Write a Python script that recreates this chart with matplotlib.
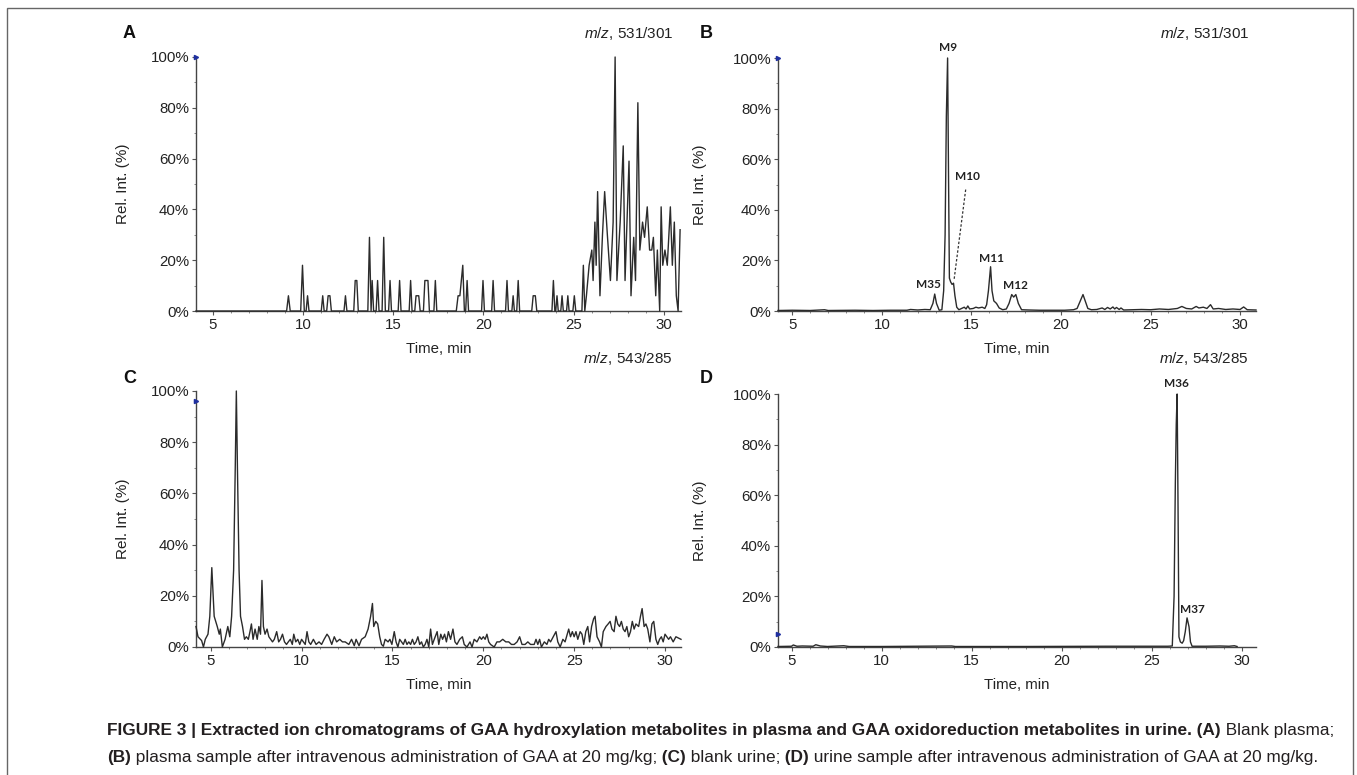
import matplotlib
matplotlib.use("Agg")
import matplotlib.pyplot as plt
from matplotlib.patches import Rectangle
from matplotlib.ticker import MultipleLocator, FixedLocator

plt.rcParams["font.family"] = ["Liberation Sans", "DejaVu Sans"]
plt.rcParams["mathtext.fontset"] = "custom"
plt.rcParams["mathtext.it"] = "Liberation Sans:italic"
plt.rcParams["mathtext.rm"] = "Liberation Sans"

W, H = 1357, 775

# ---- data ----
time_a = [4.08, 9.1, 9.2, 9.3, 9.88, 9.98, 10.08, 10.18, 10.26, 10.34, 11.02, 11.1, 11.18,
          11.32, 11.4, 11.5, 11.58, 12.28, 12.36, 12.44, 12.82, 12.9, 12.99, 13.07, 13.6,
          13.69, 13.78, 13.84, 13.92, 14.06, 14.14, 14.22, 14.39, 14.48, 14.57, 14.75, 14.83,
          14.91, 15.28, 15.36, 15.44, 15.89, 15.97, 16.05, 16.2, 16.27, 16.34, 16.42, 16.5,
          16.68, 16.76, 16.93, 17.01, 17.26, 17.34, 17.42, 18.5, 18.6, 18.7, 18.86, 18.95,
          19.02, 19.1, 19.18, 19.9, 19.98, 20.06, 20.46, 20.54, 20.62, 21.23, 21.31, 21.39,
          21.58, 21.65, 21.72, 21.85, 21.93, 22.01, 22.68, 22.76, 22.88, 22.96, 23.8, 23.88,
          23.96, 24.01, 24.08, 24.15, 24.29, 24.36, 24.43, 24.61, 24.68, 24.75, 24.96, 25.04,
          25.12, 25.46, 25.54, 25.62, 25.71, 25.86, 26.01, 26.08, 26.18, 26.25, 26.33, 26.46,
          26.6, 26.72, 26.87, 27.04, 27.19, 27.3, 27.4, 27.58, 27.75, 27.85, 28.07, 28.18,
          28.33, 28.43, 28.56, 28.67, 28.82, 28.93, 29.08, 29.21, 29.33, 29.42, 29.55, 29.64,
          29.77, 29.85, 29.94, 30.06, 30.19, 30.36, 30.47, 30.58, 30.69, 30.79, 30.9]
int_a = [0, 0, 6, 0, 0, 18, 0, 0, 6, 0, 0, 6, 0,
         0, 6, 6, 0, 0, 6, 0, 0, 12, 12, 0, 0,
         29, 0, 12, 0, 0, 12, 0, 0, 29, 0, 0, 12,
         0, 0, 12, 0, 0, 12, 0, 0, 6, 6, 6, 0,
         0, 12, 12, 0, 0, 12, 0, 0, 6, 6, 18, 0,
         0, 12, 0, 0, 12, 0, 0, 12, 0, 0, 12, 0,
         0, 6, 0, 0, 12, 0, 0, 6, 6, 0, 0, 12,
         0, 0, 6, 0, 0, 6, 0, 0, 6, 0, 0, 6,
         0, 0, 18, 0, 6, 18, 24, 12, 35, 18, 47, 6,
         30, 47, 30, 12, 35, 100, 12, 35, 65, 12, 59, 6,
         29, 12, 82, 24, 35, 29, 41, 24, 24, 29, 6, 24,
         0, 41, 18, 24, 18, 41, 18, 35, 6, 0, 32]

time_b = [4.2, 5.0, 6.0, 6.8, 7.0, 8.5, 9.5, 10.5, 11.4, 11.6, 12.0, 12.4, 12.7, 12.85,
          12.95, 13.05, 13.2, 13.35, 13.45, 13.53, 13.6, 13.67, 13.72, 13.77, 13.84, 13.92,
          14.0, 14.08, 14.18, 14.3, 14.45, 14.6, 14.7, 14.8, 14.9, 15.1, 15.25, 15.4, 15.6,
          15.75, 15.85, 15.95, 16.07, 16.15, 16.25, 16.4, 16.55, 16.75, 16.95, 17.1, 17.25,
          17.36, 17.48, 17.62, 17.8, 18.2, 18.8, 19.5, 20.2, 20.7, 20.9, 21.23, 21.5, 21.7,
          22.0, 22.3, 22.45, 22.6, 22.75, 22.9, 23.0, 23.1, 23.25, 23.35, 23.5, 24.0, 24.5,
          25.0, 25.5, 26.0, 26.5, 26.75, 27.0, 27.3, 27.55, 27.7, 27.95, 28.15, 28.35, 28.5,
          28.8, 29.2, 29.6, 30.0, 30.2, 30.4, 30.89]
int_b = [0.2, 0.3, 0.2, 0.5, 0.2, 0.3, 0.2, 0.3, 0.3, 0.6, 0.4, 0.6, 0.5, 3,
         6.7, 3, 0.3, 0.5, 8, 30, 77, 100, 55, 13, 11.5, 10.5,
         11, 6, 1.5, 0.5, 1, 1.5, 0.8, 2, 0.8, 1, 1.5, 1.2, 1.5,
         1, 2.5, 8, 17.5, 8, 4, 3, 1.2, 0.5, 0.8, 3, 6.5,
         5.5, 6.5, 3, 0.5, 0.4, 0.3, 0.3, 0.3, 0.5, 1, 6.5, 1, 0.5,
         0.6, 1.2, 0.6, 1.4, 0.8, 1.6, 0.8, 1.4, 0.6, 1.2, 0.4, 0.5, 0.6,
         0.5, 0.8, 0.6, 1, 1.8, 1, 0.8, 1.8, 1.2, 1.5, 1, 2.5, 0.8,
         1, 0.6, 0.8, 0.6, 1.6, 0.5, 0.4]

time_c = [4.19, 4.3, 4.5, 4.6, 4.7, 4.85, 4.95, 5.06, 5.19, 5.36, 5.47, 5.53, 5.64, 5.79,
          5.94, 6.05, 6.15, 6.26, 6.35, 6.41, 6.47, 6.56, 6.64, 6.75, 6.86, 6.96, 7.07,
          7.16, 7.24, 7.33, 7.44, 7.56, 7.65, 7.74, 7.82, 7.9, 7.99, 8.1, 8.2, 8.3, 8.4,
          8.5, 8.63, 8.74, 8.84, 8.95, 9.06, 9.17, 9.27, 9.38, 9.49, 9.57, 9.68, 9.79, 9.9,
          10.0, 10.1, 10.2, 10.3, 10.4, 10.5, 10.65, 10.8, 10.96, 11.1, 11.24, 11.4, 11.5,
          11.66, 11.8, 11.93, 12.1, 12.25, 12.4, 12.6, 12.75, 12.9, 13.0, 13.16, 13.3, 13.5,
          13.66, 13.8, 13.9, 13.97, 14.08, 14.19, 14.3, 14.4, 14.5, 14.6, 14.76, 14.86,
          14.97, 15.1, 15.2, 15.3, 15.4, 15.5, 15.6, 15.7, 15.8, 15.9, 16.0, 16.1, 16.2,
          16.3, 16.4, 16.5, 16.6, 16.7, 16.8, 16.9, 17.0, 17.1, 17.2, 17.3, 17.46, 17.55,
          17.66, 17.76, 17.87, 17.97, 18.08, 18.2, 18.33, 18.44, 18.55, 18.7, 18.85, 18.95,
          19.1, 19.27, 19.38, 19.5, 19.65, 19.8, 19.9, 20.0, 20.1, 20.2, 20.3, 20.4, 20.6,
          20.75, 20.9, 21.07, 21.24, 21.4, 21.55, 21.7, 21.86, 22.0, 22.13, 22.3, 22.45,
          22.6, 22.8, 22.9, 23.0, 23.1, 23.2, 23.36, 23.5, 23.6, 23.7, 23.85, 24.0, 24.1,
          24.23, 24.38, 24.5, 24.7, 24.8, 24.9, 25.0, 25.1, 25.2, 25.33, 25.43, 25.53,
          25.64, 25.75, 25.85, 25.96, 26.07, 26.15, 26.26, 26.4, 26.5, 26.6, 26.75, 26.87,
          26.98, 27.08, 27.2, 27.3, 27.4, 27.5, 27.6, 27.7, 27.8, 27.9, 28.0, 28.1, 28.2,
          28.3, 28.4, 28.55, 28.65, 28.74, 28.85, 28.95, 29.05, 29.17, 29.28, 29.38, 29.5,
          29.6, 29.7, 29.8, 29.9, 30.0, 30.1, 30.2, 30.3, 30.45, 30.6, 30.88]
int_c = [8, 4, 2.5, 0, 3, 5, 12, 31, 12, 8, 5, 7, 0, 3,
         8, 4, 12, 30, 70, 100, 70, 30, 12, 8, 3, 4, 3,
         6, 9, 3, 7, 3, 8, 5, 26, 8, 5, 7, 4, 3, 2,
         3, 6, 2, 3, 5, 2, 1, 2, 3, 1, 5, 2, 3, 1,
         3, 2, 1, 6, 2, 1, 3, 1, 2, 1, 3, 5, 4,
         1, 4, 2, 3, 2, 2, 1, 3, 0.5, 3, 0.5, 3, 4,
         7, 12, 17, 8, 10, 9, 4, 1, 0.3, 3, 2, 3,
         1, 6, 2, 0, 3, 2, 1, 3, 1, 2, 1, 3, 1,
         2, 4, 1, 2, 0, 1, 3, 0, 7, 1, 3, 6, 1,
         5, 3, 5, 2, 6, 3, 7, 2, 1, 3, 4, 1,
         0, 2, 0, 3, 2, 4, 3, 4, 3, 5, 2, 1, 0,
         2, 2, 3, 2, 2, 1, 1, 2, 4, 1, 1, 2,
         1, 1, 3, 1, 3, 0, 2, 1, 3, 2, 4, 6, 2,
         0, 3, 2, 7, 4, 6, 4, 6, 3, 6, 5, 1,
         6, 8, 2, 8, 11, 12, 4, 2, 0, 6, 8, 9,
         10, 7, 6, 12, 9, 8, 10, 7, 6, 8, 4, 6, 10,
         7, 9, 8, 12, 15, 8, 9, 7, 2, 9, 10, 3,
         1, 3, 4, 2, 5, 4, 3, 4, 2, 4, 3]

time_d = [4.25, 5.0, 5.1, 5.3, 5.6, 6.2, 6.35, 6.6, 7.0, 7.9, 8.2, 10.0, 13.9, 14.1, 18.0,
          22.5, 25.9, 26.15, 26.25, 26.32, 26.37, 26.42, 26.47, 26.52, 26.6, 26.7, 26.78,
          26.87, 26.97, 27.08, 27.16, 27.25, 28.0, 28.8, 29.3, 29.6, 29.75]
int_d = [0.2, 0.3, 0.8, 0.3, 0.4, 0.3, 0.9, 0.4, 0.2, 0.5, 0.2, 0.2, 0.4, 0.2, 0.2,
         0.3, 0.3, 0.4, 20, 65, 88, 100, 55, 4, 2, 1.5, 2.5,
         6, 11.5, 8, 2, 0.3, 0.3, 0.4, 0.3, 0.5, 0.2]

xticks = [5, 10, 15, 20, 25, 30]
yticks = [0, 20, 40, 60, 80, 100]
ytick_labels = ["0%", "20%", "40%", "60%", "80%", "100%"]

labels_b = [("M9", 13.67, 104), ("M10", 14.8, 53), ("M35", 12.6, 10.5),
            ("M11", 16.12, 20.6), ("M12", 17.47, 10)]
labels_d = [("M36", 26.4, 104), ("M37", 27.25, 15)]

panels = [
    # letter, mz, x, y, xlim, pixel box (left, right, top, bottom), blue marker y
    ("A", "531/301", time_a, int_a, (4.08, 30.95), (196, 681, 57, 311), 100),
    ("B", "531/301", time_b, int_b, (4.2, 30.89), (778, 1256, 58, 311), 100),
    ("C", "543/285", time_c, int_c, (4.19, 30.88), (196, 681, 391, 647), 96),
    ("D", "543/285", time_d, int_d, (4.25, 30.8), (778, 1256, 394, 647), 5),
]

fig = plt.figure(figsize=(W / 100, H / 100), dpi=100)

axes = {}
for letter, mz, tx, iy, xlim, box, mark_y in panels:
    l, r, t, b = box
    left_col = l < 500
    ax = fig.add_axes([l / W, 1 - b / H, (r - l) / W, (b - t) / H])
    ax.plot(tx, iy, color="#2b2b2b", lw=1.0, clip_on=False, zorder=3)
    ax.set_xlim(*xlim)
    ax.set_ylim(0, 100)
    for s in ("top", "right"):
        ax.spines[s].set_visible(False)
    for s in ("left", "bottom"):
        ax.spines[s].set_color("#444444")
        ax.spines[s].set_linewidth(1.0)
    ax.xaxis.set_major_locator(FixedLocator(xticks))
    ax.xaxis.set_minor_locator(MultipleLocator(1))
    ax.set_yticks(yticks)
    ax.set_yticklabels(ytick_labels)
    ax.yaxis.set_minor_locator(MultipleLocator(10))
    ax.tick_params(which="major", labelsize=10.8, length=3, width=0.8, colors="#555555",
                   labelcolor="#222222", pad=2)
    ax.tick_params(which="minor", length=1.5, width=0.6, colors="#777777")
    ax.set_xlabel("Time, min", fontsize=10.8, color="#222222")
    ax.set_ylabel("Rel. Int. (%)", fontsize=11, color="#222222")
    ax.xaxis.set_label_coords(0.5, -31 / (b - t))
    ax.yaxis.set_label_coords(((130 if left_col else 707) - l) / (r - l), 0.5)
    ax.plot([xlim[0]], [mark_y], marker=">", ms=3, color="#1f2f9f", clip_on=False, zorder=4)

    top_row = t < 200
    fig.text((123 if left_col else 700) / W, 1 - (33 if top_row else 378) / H, letter,
             fontsize=13, fontweight="bold", ha="left", va="center", color="#111111")
    fig.text((673 if left_col else 1249) / W, 1 - (33 if top_row else 359) / H,
             r"$\mathit{m/z}$, " + mz, fontsize=11, ha="right", va="center", color="#222222")
    axes[letter] = ax

for name, x, y in labels_b:
    axes["B"].text(x, y, name, fontsize=8.5, fontweight="bold", family="Lato",
                   ha="center", va="center", color="#222222", clip_on=False)
axes["B"].plot([14.68, 14.03], [48, 12.3], ls=(0, (2, 1.5)), lw=0.9, color="#333333")
for name, x, y in labels_d:
    axes["D"].text(x, y, name, fontsize=8.5, fontweight="bold", family="Lato",
                   ha="center", va="center", color="#222222", clip_on=False)

# outer frame
fig.patches.append(Rectangle((7 / W, -0.01), (1353 - 7) / W, 1.01 - 8 / H,
                             transform=fig.transFigure, fill=False, ec="#666666", lw=1.0))

# caption with mixed bold/regular runs
line1 = [("FIGURE 3 | Extracted ion chromatograms of GAA hydroxylation metabolites in plasma "
          "and GAA oxidoreduction metabolites in urine. (A)", "bold"),
         (" Blank plasma;", "normal")]
line2 = [("(B)", "bold"),
         (" plasma sample after intravenous administration of GAA at 20 mg/kg;", "normal"),
         (" (C)", "bold"), (" blank urine;", "normal"), (" (D)", "bold"),
         (" urine sample after intravenous administration of GAA at 20 mg/kg.", "normal")]

renderer = fig.canvas.get_renderer()


def place(runs, x0, ybase, size):
    x = x0
    for txt, wt in runs:
        tt = fig.text(x / W, 1 - ybase / H, txt, fontsize=size, fontweight=wt,
                      ha="left", va="baseline", color="#231f20")
        x += tt.get_window_extent(renderer).width
    return x - x0


probe = fig.text(0, 0, "".join(t for t, _ in line1), fontsize=10, fontweight="bold")
wprobe = probe.get_window_extent(renderer).width
probe.remove()
cap_size = 10 * (1344 - 107) / wprobe
place(line1, 107, 735, cap_size)
place(line2, 107, 762, cap_size)

fig.savefig("out.png", dpi=100)
